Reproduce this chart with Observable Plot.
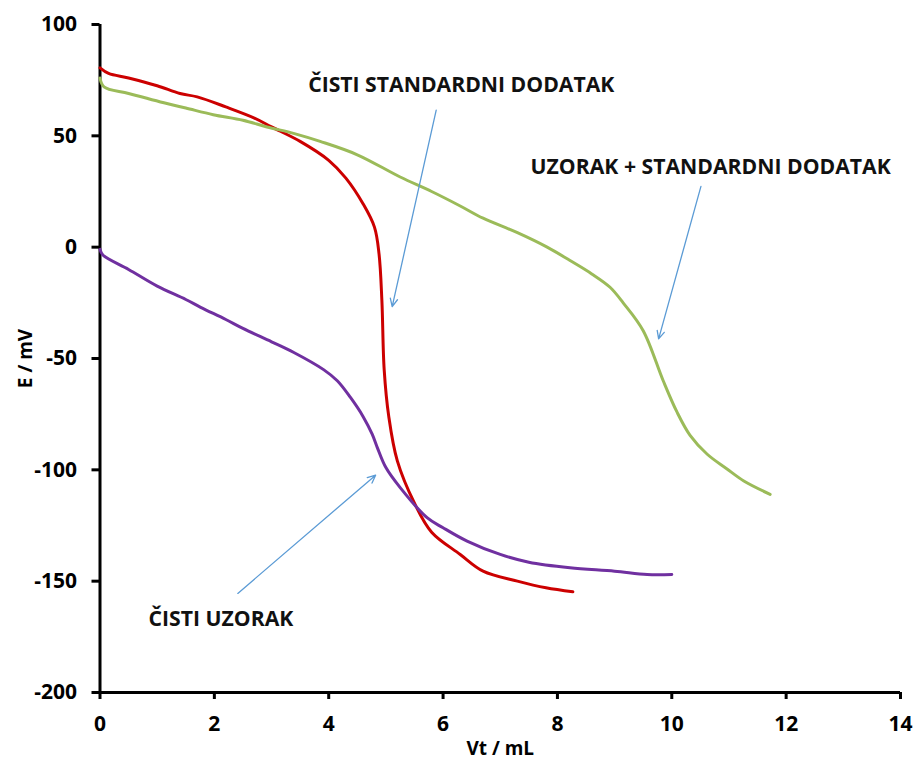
<!DOCTYPE html>
<html>
<head>
<meta charset="utf-8">
<script src="https://cdn.jsdelivr.net/npm/d3@7"></script>
<script src="https://cdn.jsdelivr.net/npm/@observablehq/plot@0.6"></script>
<style>
  html, body { margin: 0; padding: 0; background: #fff; }
  #chart svg { display: block; }
</style>
</head>
<body>
<div id="chart"></div>
<script>
// Series: ČISTI STANDARDNI DODATAK (red)
const stdX = [0, 0.15, 0.5, 1.0, 1.4, 1.7, 2.2, 2.7, 3.0, 3.5, 4.0, 4.3, 4.6, 4.8, 4.88, 4.93, 4.97, 5.05, 5.2, 5.5, 5.8, 6.3, 6.7, 7.3, 7.8, 8.27];
const stdY = [80.5, 78, 76, 72.5, 69, 67.5, 63, 58, 54, 47.5, 39, 31, 19.5, 9, -3, -24, -55, -76, -96, -115, -128, -138, -145.5, -150, -153, -154.8];

// Series: UZORAK + STANDARDNI DODATAK (green)
const mixX = [0, 0.07, 0.5, 1.17, 1.5, 1.98, 2.5, 2.92, 3.4, 3.85, 4.5, 5.25, 5.8, 6.3, 6.7, 7.3, 7.82, 8.22, 8.6, 8.92, 9.15, 9.5, 9.85, 10.09, 10.32, 10.62, 10.96, 11.26, 11.72];
const mixY = [76, 72, 69, 64.5, 62.5, 59.5, 57, 54, 51, 47.5, 41.5, 31.5, 25, 18.5, 13, 6.5, 0, -6, -12, -18, -25, -37.5, -60, -74, -84.5, -93, -99.5, -105, -111];

// Series: ČISTI UZORAK (purple)
const smpX = [0, 0.05, 0.5, 1.0, 1.5, 1.76, 2.2, 2.5, 3.0, 3.39, 3.91, 4.15, 4.38, 4.6, 4.76, 4.85, 5.0, 5.25, 5.72, 6.0, 6.42, 7.0, 7.5, 8.22, 9.0, 9.57, 10.0];
const smpY = [-1, -3.5, -10, -17.5, -23.5, -27, -32.5, -36.5, -42.5, -47.3, -55, -60, -67.5, -76, -84, -90, -99, -108, -121.5, -126, -132, -138, -141.5, -144, -145.5, -147, -147];

// Axis ticks
const xTicks = [0, 2, 4, 6, 8, 10, 12, 14];
const yTicks = [100, 50, 0, -50, -100, -150, -200];

// Annotations (data coordinates)
const labelText = ["ČISTI STANDARDNI DODATAK", "UZORAK + STANDARDNI DODATAK", "ČISTI UZORAK"];
const labelX = [3.64, 7.53, 0.85];
const labelY = [72.8, 36, -166.9];
const arrowX1 = [5.88, 10.51, 2.41];
const arrowY1 = [61.5, 27.3, -155.5];
const arrowX2 = [5.11, 9.77, 4.82];
const arrowY2 = [-26.7, -41.2, -102.4];

const toPts = (xs, ys, name) => xs.map((x, i) => ({x, y: ys[i], name}));
const series = [
  ...toPts(stdX, stdY, "std"),
  ...toPts(mixX, mixY, "mix"),
  ...toPts(smpX, smpY, "smp")
];
const labels = labelText.map((t, i) => ({t, x: labelX[i], y: labelY[i]}));
const arrows = arrowX1.map((x1, i) => ({x1, y1: arrowY1[i], x2: arrowX2[i], y2: arrowY2[i]}));

const font = "'Open Sans', 'DejaVu Sans', sans-serif";
const fmt = d => String(d);

const chart = Plot.plot({
  width: 916,
  height: 763,
  marginLeft: 99.5,
  marginRight: 16,
  marginTop: 24,
  marginBottom: 71,
  style: {fontFamily: font, fontWeight: "bold", color: "#000", background: "#fff", overflow: "visible"},
  x: {domain: [0, 14]},
  y: {domain: [-200, 100]},
  color: {domain: ["std", "mix", "smp"], range: ["#CC0000", "#9BBB59", "#7030A0"]},
  marks: [
    Plot.axisX({ticks: xTicks, tickFormat: fmt, tickSize: 7, tickPadding: 17, fontSize: 21, strokeWidth: 3,
      label: "Vt / mL", labelAnchor: "center", labelArrow: "none", labelOffset: 62}),
    Plot.axisY({ticks: yTicks, tickFormat: fmt, tickSize: 8, tickPadding: 15, fontSize: 21, strokeWidth: 3,
      label: "E / mV", labelAnchor: "center", labelArrow: "none", labelOffset: 82}),
    Plot.ruleX([0], {stroke: "#000", strokeWidth: 3}),
    Plot.ruleY([-200], {stroke: "#000", strokeWidth: 3}),
    Plot.line(series, {x: "x", y: "y", z: "name", stroke: "name", strokeWidth: 3, curve: "catmull-rom"}),
    Plot.arrow(arrows, {x1: "x1", y1: "y1", x2: "x2", y2: "y2", stroke: "#5B9BD5", strokeWidth: 1.3, headLength: 10, headAngle: 50}),
    Plot.text(labels, {x: "x", y: "y", text: "t", textAnchor: "start", fontSize: 21.2, fontWeight: "bold", fill: "#111"})
  ]
});

// axis title font size tweak
d3.select(chart).selectAll("[aria-label='x-axis label'] text, [aria-label='y-axis label'] text").attr("font-size", 19);
document.getElementById("chart").appendChild(chart);
</script>
</body>
</html>
